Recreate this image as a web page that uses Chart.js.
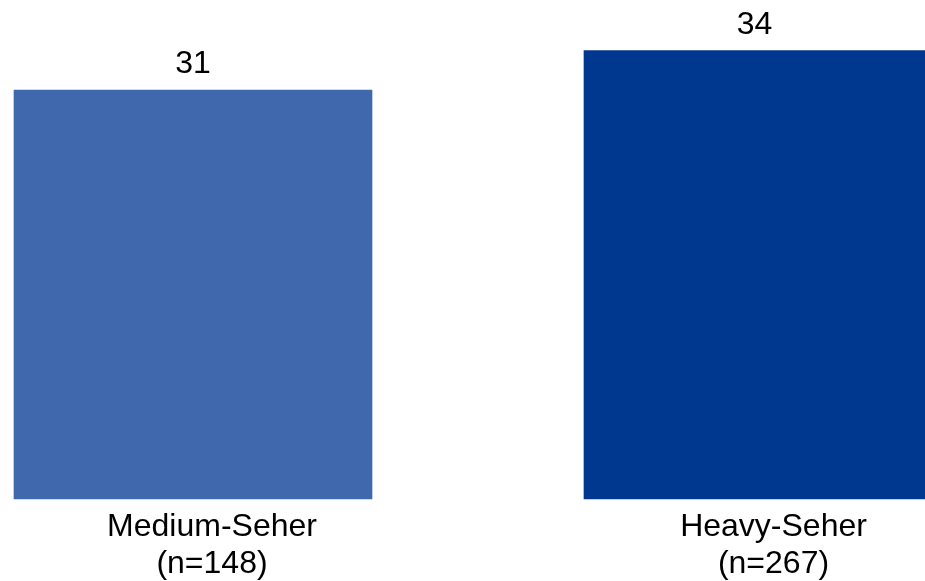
<!DOCTYPE html>
<html>
<head>
<meta charset="utf-8">
<script src="https://cdn.jsdelivr.net/npm/chart.js@4/dist/chart.umd.min.js"></script>
<style>
  html, body { margin: 0; padding: 0; background: #ffffff; }
  #wrap { width: 925px; height: 581px; position: relative; }
</style>
</head>
<body>
<div id="wrap"><canvas id="c"></canvas></div>
<script>
const categories = [['Medium-Seher', '(n=148)'], ['Heavy-Seher', '(n=267)']];
const values = [31, 34];
const barColors = ['#4068ad', '#00388f'];
const barWidths = [358, 341];

const FONT = '"Liberation Sans", Arial, Helvetica, sans-serif';

const datasets = values.map((v, i) => ({
  label: categories[i].join(' '),
  data: values.map((w, j) => (j === i ? w : null)),
  backgroundColor: barColors[i],
  barThickness: barWidths[i],
  grouped: false,
  clip: false
}));

const valueLabels = {
  id: 'valueLabels',
  afterDatasetsDraw(chart) {
    const ctx = chart.ctx;
    ctx.save();
    ctx.font = '32px ' + FONT;
    ctx.fillStyle = '#000000';
    ctx.textAlign = 'center';
    ctx.textBaseline = 'alphabetic';
    chart.data.datasets.forEach((ds, di) => {
      const meta = chart.getDatasetMeta(di);
      meta.data.forEach((el, i) => {
        const v = ds.data[i];
        if (v === null || v === undefined) return;
        ctx.fillText(String(v), el.x, el.y - 17);
      });
    });
    ctx.restore();
  }
};

new Chart(document.getElementById('c'), {
  type: 'bar',
  data: { labels: categories, datasets },
  options: {
    responsive: true,
    maintainAspectRatio: false,
    animation: false,
    layout: { padding: { left: 193, right: 170.5, top: 0, bottom: 0 } },
    plugins: { legend: { display: false }, tooltip: { enabled: false } },
    scales: {
      x: {
        offset: false,
        grid: { display: false, drawTicks: false },
        border: { display: false },
        ticks: {
          color: '#000000',
          font: { family: FONT, size: 32, lineHeight: 1.15 },
          padding: 10,
          labelOffset: 19,
          maxRotation: 0,
          autoSkip: false
        },
        afterFit(axis) { axis.height = 82; }
      },
      y: {
        display: false,
        min: 0,
        max: 37.83
      }
    }
  },
  plugins: [valueLabels]
});
</script>
</body>
</html>
